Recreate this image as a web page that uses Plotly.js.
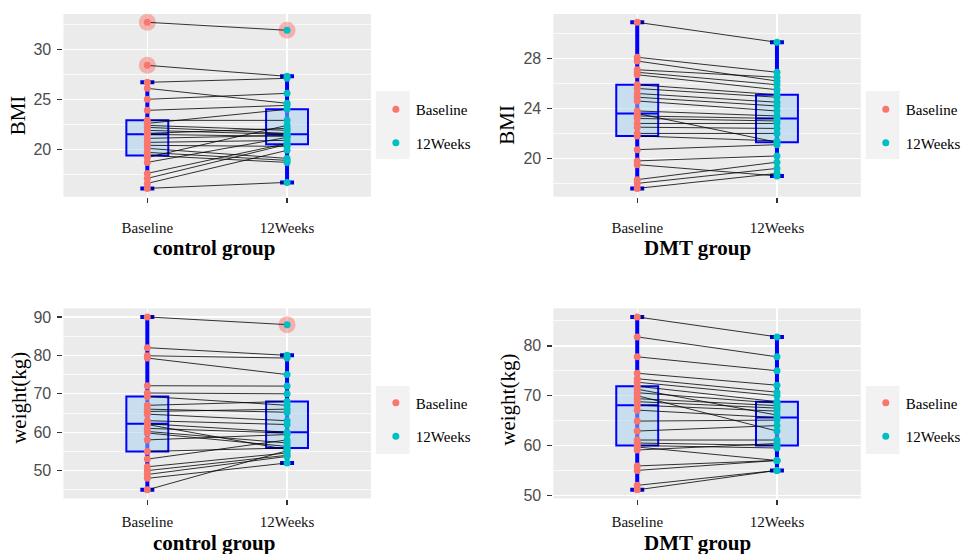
<!DOCTYPE html>
<html>
<head>
<meta charset="utf-8">
<script src="https://cdn.plot.ly/plotly-3.0.1.min.js"></script>
<style>html,body{margin:0;padding:0;background:#fff;}#chart{width:966px;height:554px;}</style>
</head>
<body>
<div id="chart"></div>
<script>
// ---------- data ----------
const timepoints = ['Baseline', '12Weeks'];
const groupNames = ['control group', 'DMT group'];
const measureNames = ['BMI', 'weight(kg)'];

// control group, paired by subject (index i = same subject)
const ctrlBmiBaseline = [32.7, 28.4, 26.7, 26.1, 25.0, 23.9, 22.9, 22.6, 22.4, 22.2, 21.9, 21.6, 21.5, 21.1, 20.7, 20.4, 20.1, 19.7, 19.4, 19.2, 18.7, 17.6, 17.1, 16.6, 16.1];
const ctrlBmiWeek12   = [31.9, 27.3, 27.1, 24.6, 25.6, 24.4, 22.9, 24.0, 21.9, 21.6, 21.5, 22.1, 21.3, 21.4, 20.9, 20.3, 19.1, 18.9, 18.7, 22.4, 21.2, 20.6, 20.5, 19.9, 16.7];
const ctrlWtBaseline  = [90, 82, 79.9, 79.3, 72.1, 70.2, 69.3, 67, 66, 65.4, 64.7, 63, 62.2, 62, 61, 60.2, 59.8, 58, 55, 53, 51, 50, 49, 48, 45];
const ctrlWtWeek12    = [88, 80, 79.3, 75, 72, 70, 67, 68, 65.2, 66, 63, 62, 60, 55.5, 59.8, 57.2, 56.3, 59.4, 55.9, 58, 54.6, 54, 53.7, 52, 55.2];

// DMT group
const dmtBmiBaseline  = [30.9, 28.1, 27.8, 27.1, 26.9, 26.7, 25.9, 25.6, 25.2, 24.9, 24.6, 23.8, 23.6, 23.4, 23.2, 22.8, 22.5, 22.0, 21.8, 20.7, 19.8, 19.5, 18.3, 18.0, 17.6];
const dmtBmiWeek12    = [29.3, 26.9, 26.2, 26.5, 25.9, 25.5, 25.1, 24.9, 24.5, 24.2, 23.8, 23.4, 21.3, 23.2, 23.0, 22.8, 22.4, 22.0, 21.4, 21.1, 20.2, 18.6, 19.7, 19.2, 18.8];
const dmtWtBaseline   = [85.8, 81.8, 77.8, 74.5, 73.4, 72.7, 71.9, 71.3, 70.6, 70.0, 69.4, 68.8, 68.1, 67.1, 64.9, 62.9, 61.1, 60.5, 60.0, 59.7, 59.1, 55.9, 55.0, 52.0, 51.1];
const dmtWtWeek12     = [81.8, 77.8, 75.0, 72.1, 70.7, 70.0, 68.8, 66.1, 68.5, 62.9, 68.0, 67.5, 66.9, 65.6, 65.1, 64.0, 61.1, 60.0, 59.5, 57.0, 60.4, 57.0, 57.0, 55.0, 55.0];

const yTickStep = [5, 4, 10, 10];

// ---------- helpers ----------
function quant(arr, p) {
  const s = arr.slice().sort((a, b) => a - b);
  const h = (s.length - 1) * p, lo = Math.floor(h), hi = Math.ceil(h);
  return s[lo] + (h - lo) * (s[hi] - s[lo]);
}
function boxStats(arr) {
  const q1 = quant(arr, 0.25), med = quant(arr, 0.5), q3 = quant(arr, 0.75), iqr = q3 - q1;
  const lf = q1 - 1.5 * iqr, uf = q3 + 1.5 * iqr;
  const inside = arr.filter(v => v >= lf && v <= uf);
  return { q1, med, q3, lo: Math.min(...inside), hi: Math.max(...inside), out: arr.filter(v => v < lf || v > uf) };
}

const W = 966, H = 554;
const px = v => v / W, py = v => 1 - v / H;

const panels = [
  { base: ctrlBmiBaseline, wk: ctrlBmiWeek12, group: 0, measure: 0, xd: [64, 374], yd: [14, 196.7],
    legX: 379, legY: 93, keyX: [379, 413], keyY: [91, 159], xt: [215.5, 248], yt: [18.5, 115], tickStand: 12 },
  { base: dmtBmiBaseline, wk: dmtBmiWeek12, group: 1, measure: 0, xd: [558, 868], yd: [14, 196.7],
    legX: 873, legY: 93, keyX: [873, 907], keyY: [91, 159], xt: [703, 248], yt: [511, 125], tickStand: 12 },
  { base: ctrlWtBaseline, wk: ctrlWtWeek12, group: 0, measure: 1, xd: [64, 374], yd: [308.3, 498.5],
    legX: 379, legY: 386.5, keyX: [379, 413], keyY: [386, 454], xt: [215.5, 543], yt: [19, 398], tickStand: 4 },
  { base: dmtWtBaseline, wk: dmtWtWeek12, group: 1, measure: 1, xd: [558, 868], yd: [308.3, 498.5],
    legX: 873, legY: 386.5, keyX: [873, 907], keyY: [386, 454], xt: [703, 543], yt: [512, 400], tickStand: 4 }
];

const colBase = '#F8766D', colWk = '#00BFC4';
const traces = [], shapes = [], annotations = [];
const layout = {
  width: W, height: H, autosize: false,
  margin: { l: 0, r: 0, t: 0, b: 0 },
  paper_bgcolor: '#FFFFFF', plot_bgcolor: '#EBEBEB',
  showlegend: true,
  font: { family: 'Liberation Sans', color: '#4D4D4D' }
};

panels.forEach((p, i) => {
  const n = i + 1;
  const xa = n === 1 ? 'x' : 'x' + n, ya = n === 1 ? 'y' : 'y' + n;
  const xk = n === 1 ? 'xaxis' : 'xaxis' + n, yk = n === 1 ? 'yaxis' : 'yaxis' + n;
  const lg = n === 1 ? 'legend' : 'legend' + n;
  const all = p.base.concat(p.wk);
  const mn = Math.min(...all), mx = Math.max(...all), r = mx - mn;

  layout[xk] = {
    domain: [px(p.xd[0]), px(p.xd[1])], anchor: ya, type: 'linear', range: [0.4, 2.6],
    tickmode: 'array', tickvals: [1, 2], ticktext: timepoints,
    showgrid: true, gridcolor: '#FFFFFF', gridwidth: 1.4, zeroline: false, showline: false,
    ticks: 'outside', ticklen: 5, tickwidth: 1.3, tickcolor: '#333333',
    ticklabelstandoff: p.tickStand,
    tickfont: { family: 'Liberation Serif', size: 15, color: '#111111' }, fixedrange: true
  };
  layout[yk] = {
    domain: [py(p.yd[1]), py(p.yd[0])], anchor: xa, range: [mn - 0.05 * r, mx + 0.05 * r],
    tick0: 0, dtick: yTickStep[i],
    showgrid: true, gridcolor: '#FFFFFF', gridwidth: 1.4, zeroline: false, showline: false,
    minor: { tick0: 0, dtick: yTickStep[i] / 2, showgrid: true, gridcolor: '#FFFFFF', gridwidth: 0.7 },
    ticks: 'outside', ticklen: 5, tickwidth: 1.3, tickcolor: '#333333', ticklabelstandoff: 3,
    tickfont: { family: 'Liberation Sans', size: 16, color: '#4D4D4D' }, fixedrange: true
  };

  // boxes, whiskers, outliers
  const series = [p.base, p.wk];
  const outX = [], outY = [];
  series.forEach((vals, k) => {
    const s = boxStats(vals);
    const xpos = k + 1;
    shapes.push({ type: 'line', xref: xa, yref: ya, x0: xpos, x1: xpos, y0: s.lo, y1: s.hi, layer: 'between', line: { color: '#0000FF', width: 4 } });
    [s.lo, s.hi].forEach(v => shapes.push({ type: 'line', xref: xa, yref: ya, x0: xpos - 0.05, x1: xpos + 0.05, y0: v, y1: v, layer: 'between', line: { color: '#0000DD', width: 4 } }));
    traces.push({
      type: 'box', x: [xpos], q1: [s.q1], median: [s.med], q3: [s.q3], lowerfence: [s.lo], upperfence: [s.hi],
      xaxis: xa, yaxis: ya, width: 0.3, whiskerwidth: 0, boxpoints: false,
      line: { color: '#0000FF', width: 2 }, fillcolor: 'rgba(165,209,241,0.5)',
      showlegend: false, hoverinfo: 'skip'
    });
    s.out.forEach(v => { outX.push(xpos); outY.push(v); });
  });
  traces.push({ type: 'scatter', mode: 'markers', x: outX, y: outY, xaxis: xa, yaxis: ya,
    marker: { size: 17, color: 'rgba(248,118,109,0.5)', line: { width: 0 } }, showlegend: false, hoverinfo: 'skip' });

  // paired lines
  const lx = [], ly = [];
  p.base.forEach((b, j) => { lx.push(1, 2, null); ly.push(b, p.wk[j], null); });
  traces.push({ type: 'scatter', mode: 'lines', x: lx, y: ly, xaxis: xa, yaxis: ya,
    line: { color: '#000000', width: 0.8 }, connectgaps: false, showlegend: false, hoverinfo: 'skip' });

  // points
  traces.push({ type: 'scatter', mode: 'markers', name: timepoints[0], x: p.base.map(() => 1), y: p.base,
    xaxis: xa, yaxis: ya, marker: { size: 7, color: colBase }, legend: lg, legendgroup: 'b' + n, showlegend: true });
  traces.push({ type: 'scatter', mode: 'markers', name: timepoints[1], x: p.wk.map(() => 2), y: p.wk,
    xaxis: xa, yaxis: ya, marker: { size: 7, color: colWk }, legend: lg, legendgroup: 'w' + n, showlegend: true });

  layout[lg] = {
    x: px(p.legX), xanchor: 'left', y: py(p.legY), yanchor: 'top',
    bgcolor: 'rgba(0,0,0,0)', borderwidth: 0, traceorder: 'grouped', tracegroupgap: 11,
    itemwidth: 30, font: { family: 'Liberation Serif', size: 15, color: '#000000' }
  };

  // legend key background
  shapes.push({ type: 'rect', xref: 'paper', yref: 'paper', x0: px(p.keyX[0]), x1: px(p.keyX[1]),
    y0: py(p.keyY[1]), y1: py(p.keyY[0]), fillcolor: '#F2F2F2', line: { width: 0 }, layer: 'below' });

  // axis titles
  annotations.push({ xref: 'paper', yref: 'paper', x: px(p.xt[0]), y: py(p.xt[1]), xanchor: 'center', yanchor: 'middle',
    text: '<b>' + groupNames[p.group] + '</b>', showarrow: false,
    font: { family: 'Liberation Serif', size: 21, color: '#000000' } });
  annotations.push({ xref: 'paper', yref: 'paper', x: px(p.yt[0]), y: py(p.yt[1]), xanchor: 'center', yanchor: 'middle',
    text: measureNames[p.measure], textangle: -90, showarrow: false,
    font: { family: 'Liberation Serif', size: 21, color: '#000000' } });
});

layout.shapes = shapes;
layout.annotations = annotations;

Plotly.newPlot('chart', traces, layout, { staticPlot: true, displayModeBar: false });
</script>
</body>
</html>
